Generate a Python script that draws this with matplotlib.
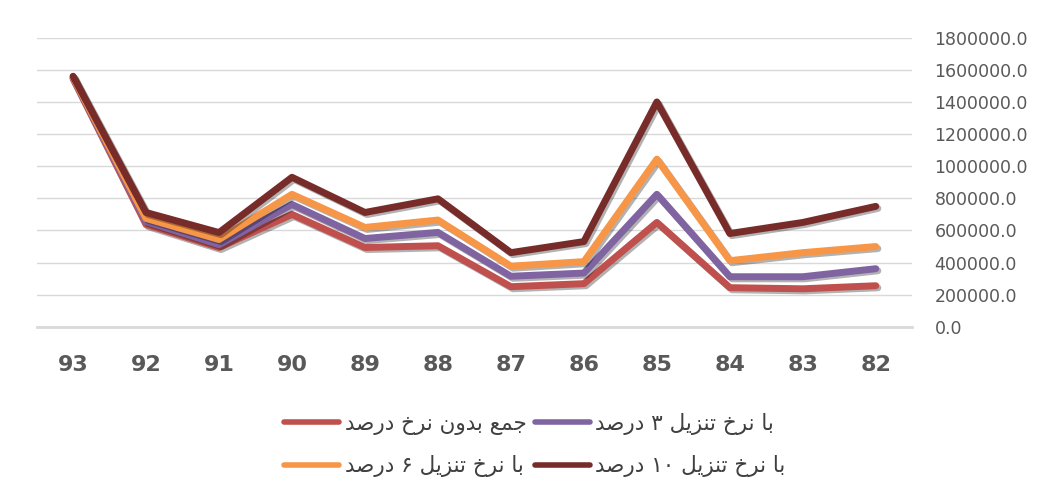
import re
import matplotlib
matplotlib.use('Agg')
import matplotlib.pyplot as plt
import matplotlib.patheffects as pe
from matplotlib.lines import Line2D
from matplotlib.ticker import FormatStrFormatter

# داده ها (سال ها از راست به چپ)
years = ['93', '92', '91', '90', '89', '88', '87', '86', '85', '84', '83', '82']
no_disc = [1545000, 637000, 494000, 700000, 494000, 505000, 250000, 269000, 650000, 244000, 237000, 256000]
disc3 = [1550000, 656000, 512000, 762000, 550000, 588000, 315000, 335000, 825000, 312000, 312000, 362000]
disc6 = [1555000, 675000, 544000, 825000, 619000, 665000, 378000, 406000, 1044000, 412000, 462000, 500000]
disc10 = [1560000, 712000, 587000, 931000, 712000, 797000, 462000, 531000, 1400000, 581000, 650000, 750000]

labels = ['جمع بدون نرخ درصد', 'با نرخ تنزیل ۳ درصد',
          'با نرخ تنزیل ۶ درصد', 'با نرخ تنزیل ۱۰ درصد']
colors = ['#C0504D', '#8064A2', '#F79646', '#772C2A']

# شکل دهی ساده حروف فارسی (matplotlib خودش انجام نمی دهد)
FORMS = {
    'ا': ('\uFE8D', '\uFE8E'), 'د': ('\uFEA9', '\uFEAA'), 'ر': ('\uFEAD', '\uFEAE'),
    'ز': ('\uFEAF', '\uFEB0'), 'و': ('\uFEED', '\uFEEE'),
    'ب': ('\uFE8F', '\uFE90', '\uFE91', '\uFE92'), 'ت': ('\uFE95', '\uFE96', '\uFE97', '\uFE98'),
    'ج': ('\uFE9D', '\uFE9E', '\uFE9F', '\uFEA0'), 'خ': ('\uFEA5', '\uFEA6', '\uFEA7', '\uFEA8'),
    'ص': ('\uFEB9', '\uFEBA', '\uFEBB', '\uFEBC'), 'ع': ('\uFEC9', '\uFECA', '\uFECB', '\uFECC'),
    'ل': ('\uFEDD', '\uFEDE', '\uFEDF', '\uFEE0'), 'م': ('\uFEE1', '\uFEE2', '\uFEE3', '\uFEE4'),
    'ن': ('\uFEE5', '\uFEE6', '\uFEE7', '\uFEE8'), 'ی': ('\uFBFC', '\uFBFD', '\uFEF3', '\uFEF4'),
}


def shape(s):
    out = []
    for i, ch in enumerate(s):
        if ch not in FORMS:
            out.append(ch)
            continue
        prev = s[i - 1] if i > 0 else ''
        nxt = s[i + 1] if i + 1 < len(s) else ''
        jp = prev in FORMS and len(FORMS[prev]) == 4
        jn = len(FORMS[ch]) == 4 and nxt in FORMS
        f = FORMS[ch]
        if jp and jn:
            out.append(f[3])
        elif jp:
            out.append(f[1])
        elif jn:
            out.append(f[2])
        else:
            out.append(f[0])
    tokens = re.findall(r'[۰-۹]+|.', ''.join(out))
    return ''.join(reversed(tokens))


fig = plt.figure(figsize=(10.45, 4.96), dpi=100)
ax = fig.add_axes([0.035, 0.341, 0.838, 0.583])

x = list(range(len(years)))
series = [no_disc, disc3, disc6, disc10]
for vals, c in zip(series, colors):
    ax.plot(x, vals, color=c, lw=5, solid_joinstyle='round', solid_capstyle='round',
            path_effects=[pe.SimpleLineShadow(offset=(1.5, -1.5), shadow_color='k', alpha=0.3),
                          pe.Normal()])

ax.set_xlim(-0.5, len(years) - 0.5)
ax.set_ylim(0, 1800000)
ax.set_yticks(range(0, 1800001, 200000))
ax.yaxis.set_major_formatter(FormatStrFormatter('%.1f'))
ax.yaxis.tick_right()
ax.set_xticks(x)
ax.set_xticklabels(years)
ax.tick_params(axis='y', length=0, pad=16, labelsize=12.5, labelcolor='#595959')
ax.tick_params(axis='x', length=0, pad=20, labelcolor='#595959')
for t in ax.get_xticklabels():
    t.set_family(['Liberation Sans Narrow', 'DejaVu Sans'])
    t.set_fontsize(16)
    t.set_fontweight('bold')
ax.grid(axis='y', color='#D9D9D9', lw=1)
ax.set_axisbelow(True)
for s in ['top', 'left', 'right']:
    ax.spines[s].set_visible(False)
ax.spines['bottom'].set_color('#D9D9D9')
ax.spines['bottom'].set_linewidth(2)

# ترتیب لژند: ستون اول قرمز/نارنجی، ستون دوم بنفش/قهوه ای
order = [0, 2, 1, 3]
handles = [Line2D([], [], color=colors[i], lw=4, solid_capstyle='round') for i in order]
fig.legend(handles, [shape(labels[i]) for i in order],
           loc='center', bbox_to_anchor=(0.512, 0.103), ncol=2, frameon=False,
           fontsize=15.5, handlelength=2.55, handletextpad=0.25, columnspacing=0.4,
           labelspacing=0.95, labelcolor='#404040')

fig.savefig('out.png', dpi=100)
